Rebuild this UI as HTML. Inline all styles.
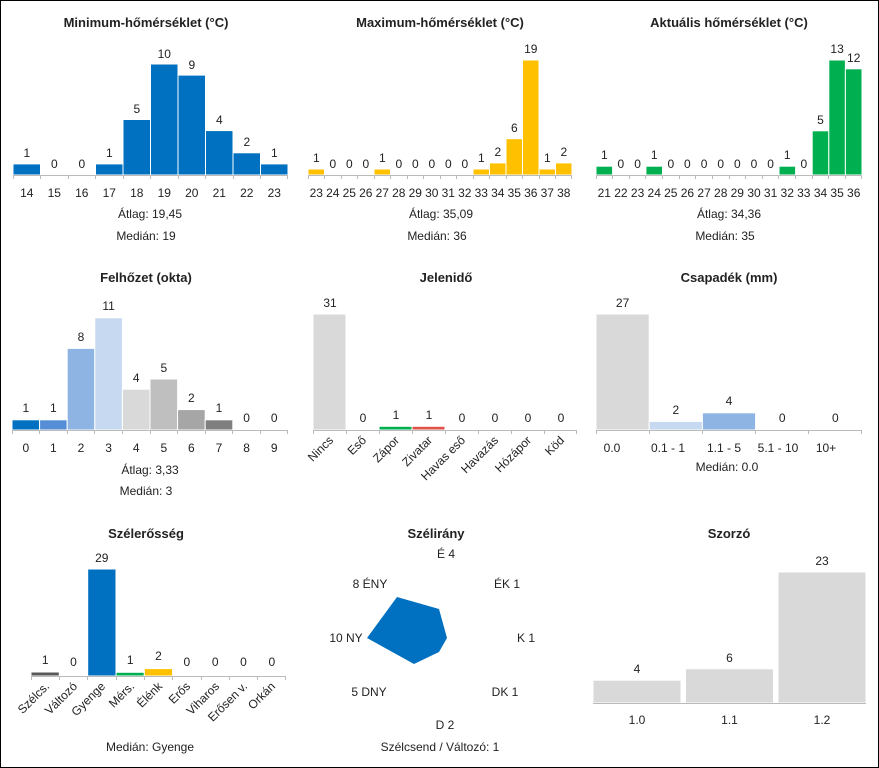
<!DOCTYPE html>
<html><head><meta charset="utf-8"><style>
html,body{margin:0;padding:0;background:#fff}
#c{width:879px;height:768px;box-sizing:border-box;border:1px solid #000;overflow:hidden}
svg{display:block}
text{font-family:"Liberation Sans",sans-serif;font-size:12px;fill:#222}
.t{font-weight:bold;font-size:13px;text-anchor:middle}
.m{text-anchor:middle}
.ax{stroke:#bbb;stroke-width:1;fill:none}
rect{stroke:#fff;stroke-width:1}
</style></head><body><div id="c">
<svg width="877" height="766" viewBox="1 1 877 766">
<!-- Panel 1 -->
<text class="t" x="146" y="27">Minimum-hőmérséklet (°C)</text>
<g fill="#0070c0">
<rect x="13" y="163.9" width="27.5" height="11.1"/><rect x="95.5" y="163.9" width="27.5" height="11.1"/>
<rect x="123" y="119.5" width="27.5" height="55.5"/><rect x="150.5" y="64" width="27.5" height="111"/>
<rect x="178" y="75.1" width="27.5" height="99.9"/><rect x="205.5" y="130.6" width="27.5" height="44.4"/>
<rect x="233" y="152.8" width="27.5" height="22.2"/><rect x="260.5" y="163.9" width="27.5" height="11.1"/>
</g>
<line class="ax" x1="13" y1="175.5" x2="288" y2="175.5"/>
<path class="ax" d="M13.5 175v4M40.5 175v4M68.5 175v4M95.5 175v4M123.5 175v4M150.5 175v4M178.5 175v4M205.5 175v4M233.5 175v4M260.5 175v4M287.5 175v4"/>
<g class="m">
<text x="26.8" y="157">1</text><text x="54.3" y="168">0</text><text x="81.8" y="168">0</text><text x="109.3" y="157">1</text><text x="136.8" y="113">5</text><text x="164.3" y="58">10</text><text x="191.8" y="69">9</text><text x="219.3" y="124">4</text><text x="246.8" y="146">2</text><text x="274.3" y="157">1</text>
<text x="26.8" y="197">14</text><text x="54.3" y="197">15</text><text x="81.8" y="197">16</text><text x="109.3" y="197">17</text><text x="136.8" y="197">18</text><text x="164.3" y="197">19</text><text x="191.8" y="197">20</text><text x="219.3" y="197">21</text><text x="246.8" y="197">22</text><text x="274.3" y="197">23</text>
<text x="150" y="218">Átlag: 19,45</text><text x="146" y="240">Medián: 19</text>
</g>
<!-- Panel 2 -->
<text class="t" x="440" y="27">Maximum-hőmérséklet (°C)</text>
<g fill="#ffc000">
<rect x="308" y="169" width="16.5" height="6"/><rect x="374" y="169" width="16.5" height="6"/>
<rect x="473" y="169" width="16.5" height="6"/><rect x="489.5" y="162.9" width="16.5" height="12.1"/>
<rect x="506" y="138.7" width="16.5" height="36.3"/><rect x="522.5" y="60" width="16.5" height="115"/>
<rect x="539" y="169" width="16.5" height="6"/><rect x="555.5" y="162.9" width="16.5" height="12.1"/>
</g>
<line class="ax" x1="308" y1="175.5" x2="572" y2="175.5"/>
<path class="ax" d="M308.5 175v4M324.5 175v4M341.5 175v4M357.5 175v4M374.5 175v4M390.5 175v4M407.5 175v4M423.5 175v4M440.5 175v4M456.5 175v4M473.5 175v4M489.5 175v4M506.5 175v4M522.5 175v4M539.5 175v4M555.5 175v4M571.5 175v4"/>
<g class="m">
<text x="316.3" y="162">1</text><text x="332.8" y="168">0</text><text x="349.3" y="168">0</text><text x="365.8" y="168">0</text><text x="382.3" y="162">1</text><text x="398.8" y="168">0</text><text x="415.3" y="168">0</text><text x="431.8" y="168">0</text><text x="448.3" y="168">0</text><text x="464.8" y="168">0</text><text x="481.3" y="162">1</text><text x="497.8" y="156">2</text><text x="514.3" y="132">6</text><text x="530.8" y="53">19</text><text x="547.3" y="162">1</text><text x="563.8" y="156">2</text>
<text x="316.3" y="197">23</text><text x="332.8" y="197">24</text><text x="349.3" y="197">25</text><text x="365.8" y="197">26</text><text x="382.3" y="197">27</text><text x="398.8" y="197">28</text><text x="415.3" y="197">29</text><text x="431.8" y="197">30</text><text x="448.3" y="197">31</text><text x="464.8" y="197">32</text><text x="481.3" y="197">33</text><text x="497.8" y="197">34</text><text x="514.3" y="197">35</text><text x="530.8" y="197">36</text><text x="547.3" y="197">37</text><text x="563.8" y="197">38</text>
<text x="441" y="218">Átlag: 35,09</text><text x="437" y="240">Medián: 36</text>
</g>
<!-- Panel 3 -->
<text class="t" x="729" y="27">Aktuális hőmérséklet (°C)</text>
<g fill="#00b050">
<rect x="596" y="166.2" width="16.6" height="8.8"/><rect x="645.9" y="166.2" width="16.6" height="8.8"/>
<rect x="779" y="166.2" width="16.6" height="8.8"/><rect x="812.2" y="130.8" width="16.6" height="44.2"/>
<rect x="828.8" y="60" width="16.6" height="115"/><rect x="845.4" y="68.8" width="16.6" height="106.2"/>
</g>
<line class="ax" x1="596" y1="175.5" x2="862" y2="175.5"/>
<path class="ax" d="M596.5 175v4M612.5 175v4M629.5 175v4M645.5 175v4M662.5 175v4M679.5 175v4M695.5 175v4M712.5 175v4M729.5 175v4M745.5 175v4M762.5 175v4M778.5 175v4M795.5 175v4M812.5 175v4M828.5 175v4M845.5 175v4M861.5 175v4"/>
<g class="m">
<text x="604.3" y="159">1</text><text x="620.9" y="168">0</text><text x="637.6" y="168">0</text><text x="654.2" y="159">1</text><text x="670.8" y="168">0</text><text x="687.4" y="168">0</text><text x="704.1" y="168">0</text><text x="720.7" y="168">0</text><text x="737.3" y="168">0</text><text x="754" y="168">0</text><text x="770.6" y="168">0</text><text x="787.2" y="159">1</text><text x="803.8" y="168">0</text><text x="820.5" y="124">5</text><text x="837.1" y="53">13</text><text x="853.7" y="62">12</text>
<text x="604.3" y="197">21</text><text x="620.9" y="197">22</text><text x="637.6" y="197">23</text><text x="654.2" y="197">24</text><text x="670.8" y="197">25</text><text x="687.4" y="197">26</text><text x="704.1" y="197">27</text><text x="720.7" y="197">28</text><text x="737.3" y="197">29</text><text x="754" y="197">30</text><text x="770.6" y="197">31</text><text x="787.2" y="197">32</text><text x="803.8" y="197">33</text><text x="820.5" y="197">34</text><text x="837.1" y="197">35</text><text x="853.7" y="197">36</text>
<text x="729" y="218">Átlag: 34,36</text><text x="725" y="240">Medián: 35</text>
</g>
<!-- Felhőzet -->
<text class="t" x="146" y="282">Felhőzet (okta)</text>
<rect x="12" y="419.8" width="27.6" height="10.2" fill="#0070c0"/>
<rect x="39.6" y="419.8" width="27.6" height="10.2" fill="#558ed5"/>
<rect x="67.2" y="348.4" width="27.6" height="81.6" fill="#8eb4e3"/>
<rect x="94.8" y="317.8" width="27.6" height="112.2" fill="#c6d9f1"/>
<rect x="122.4" y="389.2" width="27.6" height="40.8" fill="#d9d9d9"/>
<rect x="150" y="379" width="27.6" height="51" fill="#bfbfbf"/>
<rect x="177.6" y="409.6" width="27.6" height="20.4" fill="#a6a6a6"/>
<rect x="205.2" y="419.8" width="27.6" height="10.2" fill="#7f7f7f"/>
<line class="ax" x1="12" y1="430.5" x2="288" y2="430.5"/>
<path class="ax" d="M12.5 430v4M39.5 430v4M67.5 430v4M94.5 430v4M122.5 430v4M150.5 430v4M177.5 430v4M205.5 430v4M232.5 430v4M260.5 430v4M287.5 430v4"/>
<g class="m">
<text x="25.8" y="412">1</text><text x="53.4" y="412">1</text><text x="81" y="341">8</text><text x="108.6" y="310">11</text><text x="136.2" y="382">4</text><text x="163.8" y="372">5</text><text x="191.4" y="402">2</text><text x="219" y="412">1</text><text x="246.6" y="422">0</text><text x="274.2" y="422">0</text>
<text x="25.8" y="452">0</text><text x="53.4" y="452">1</text><text x="81" y="452">2</text><text x="108.6" y="452">3</text><text x="136.2" y="452">4</text><text x="163.8" y="452">5</text><text x="191.4" y="452">6</text><text x="219" y="452">7</text><text x="246.6" y="452">8</text><text x="274.2" y="452">9</text>
<text x="150" y="474">Átlag: 3,33</text><text x="146" y="495">Medián: 3</text>
</g>
<!-- Jelenidő -->
<text class="t" x="446" y="282">Jelenidő</text>
<rect x="313" y="314" width="33" height="116" fill="#d9d9d9"/>
<rect x="379" y="426.3" width="33" height="3.7" fill="#00b050"/>
<rect x="412" y="426.3" width="33" height="3.7" fill="#e0534a"/>
<line class="ax" x1="313" y1="430.5" x2="577" y2="430.5"/>
<path class="ax" d="M313.5 430v4M346.5 430v4M379.5 430v4M412.5 430v4M445.5 430v4M478.5 430v4M511.5 430v4M544.5 430v4M576.5 430v4"/>
<g class="m">
<text x="330" y="307">31</text><text x="363" y="422">0</text><text x="396" y="419">1</text><text x="429" y="419">1</text><text x="462" y="422">0</text><text x="495" y="422">0</text><text x="528" y="422">0</text><text x="561" y="422">0</text>
</g>
<g style="text-anchor:end">
<text transform="translate(334,441) rotate(-45)">Nincs</text>
<text transform="translate(367,441) rotate(-45)">Eső</text>
<text transform="translate(400,441) rotate(-45)">Zápor</text>
<text transform="translate(433,441) rotate(-45)">Zivatar</text>
<text transform="translate(466,441) rotate(-45)">Havas eső</text>
<text transform="translate(499,441) rotate(-45)">Havazás</text>
<text transform="translate(532,441) rotate(-45)">Hózápor</text>
<text transform="translate(565,441) rotate(-45)">Köd</text>
</g>
<!-- Csapadék -->
<text class="t" x="729" y="282">Csapadék (mm)</text>
<rect x="596" y="314" width="53.2" height="116" fill="#d9d9d9"/>
<rect x="649.2" y="421.4" width="53.2" height="8.6" fill="#c6d9f1"/>
<rect x="702.4" y="412.8" width="53.2" height="17.2" fill="#8eb4e3"/>
<line class="ax" x1="596" y1="430.5" x2="862" y2="430.5"/>
<path class="ax" d="M596.5 430v4M649.5 430v4M702.5 430v4M755.5 430v4M808.5 430v4M861.5 430v4"/>
<g class="m">
<text x="622.6" y="307">27</text><text x="675.8" y="414">2</text><text x="729" y="405">4</text><text x="782.2" y="422">0</text><text x="835.4" y="422">0</text>
<text x="612" y="452">0.0</text><text x="668" y="452">0.1 - 1</text><text x="724" y="452">1.1 - 5</text><text x="778" y="452">5.1 - 10</text><text x="826" y="452">10+</text>
<text x="727" y="471">Medián: 0.0</text>
</g>
<!-- Szélerősség -->
<text class="t" x="146" y="538">Szélerősség</text>
<rect x="31" y="672" width="28.3" height="4" fill="#595959"/>
<rect x="116" y="672.3" width="28.3" height="3.7" fill="#00b050"/>
<rect x="144.3" y="668.6" width="28.3" height="7.4" fill="#ffc000"/>
<rect x="87.7" y="569" width="28.3" height="107" fill="#0070c0"/>
<line class="ax" x1="31" y1="676.5" x2="286" y2="676.5"/>
<path class="ax" d="M31.5 676v4M59.5 676v4M87.5 676v4M116.5 676v4M144.5 676v4M172.5 676v4M201.5 676v4M229.5 676v4M257.5 676v4M285.5 676v4"/>
<g class="m">
<text x="45.2" y="664">1</text><text x="73.5" y="666">0</text><text x="101.8" y="562">29</text><text x="130.2" y="664">1</text><text x="158.5" y="660">2</text><text x="186.8" y="666">0</text><text x="215.2" y="666">0</text><text x="243.5" y="666">0</text><text x="271.8" y="666">0</text>
<text x="150" y="751">Medián: Gyenge</text>
</g>
<g style="text-anchor:end">
<text transform="translate(50,687) rotate(-45)">Szélcs.</text>
<text transform="translate(78,687) rotate(-45)">Változó</text>
<text transform="translate(106,687) rotate(-45)">Gyenge</text>
<text transform="translate(135,687) rotate(-45)">Mérs.</text>
<text transform="translate(163,687) rotate(-45)">Élénk</text>
<text transform="translate(191,687) rotate(-45)">Erős</text>
<text transform="translate(220,687) rotate(-45)">Viharos</text>
<text transform="translate(248,687) rotate(-45)">Erősen v.</text>
<text transform="translate(276,687) rotate(-45)">Orkán</text>
</g>
<!-- Szélirány -->
<text class="t" x="436" y="538">Szélirány</text>
<polygon points="397,597 439,609 447,638 439,652 414,664 367,638" fill="#0070c0"/>
<g class="m">
<text x="446" y="558">É 4</text><text x="370" y="588">8 ÉNY</text><text x="507" y="588">ÉK 1</text>
<text x="346" y="642">10 NY</text><text x="526" y="642">K 1</text>
<text x="369" y="696">5 DNY</text><text x="505" y="696">DK 1</text><text x="445" y="729">D 2</text>
<text x="440" y="751">Szélcsend / Változó: 1</text>
</g>
<!-- Szorzó -->
<text class="t" x="729" y="538">Szorzó</text>
<rect x="593" y="680.2" width="88" height="22.8" fill="#d9d9d9"/>
<rect x="685.5" y="668.8" width="88" height="34.2" fill="#d9d9d9"/>
<rect x="778" y="572" width="88" height="131" fill="#d9d9d9"/>
<line class="ax" x1="593" y1="703.5" x2="866" y2="703.5"/>
<g class="m">
<text x="637" y="673">4</text><text x="729.5" y="662">6</text><text x="822" y="565">23</text>
<text x="637" y="724">1.0</text><text x="729.5" y="724">1.1</text><text x="822" y="724">1.2</text>
</g>
</svg></div></body></html>
